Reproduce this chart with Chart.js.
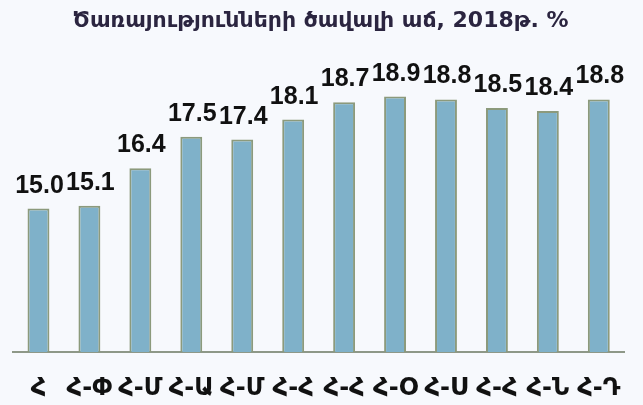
<!DOCTYPE html>
<html>
<head>
<meta charset="utf-8">
<script src="https://cdn.jsdelivr.net/npm/chart.js@4"></script>
<style>
  html, body { margin: 0; padding: 0; background: #f7f9fd; }
  #wrap { width: 643px; height: 405px; }
</style>
</head>
<body>
<div id="wrap"><canvas id="growthChart" width="643" height="405"></canvas></div>
<script>
// ======== Data ========
const regions = ["Հ", "Հ-Փ", "Հ-Մ", "Հ-Ա", "Հ-Մ", "Հ-Հ", "Հ-Հ", "Հ-Օ", "Հ-Ս", "Հ-Հ", "Հ-Ն", "Հ-Դ"];
const growth = [15.0, 15.1, 16.4, 17.5, 17.4, 18.1, 18.7, 18.9, 18.8, 18.5, 18.4, 18.8];
const chartTitle = "Ծառայությունների ծավալի աճ, 2018թ. %";

// ======== Value labels above bars ========
const valueLabels = {
    id: "valueLabels",
    afterDatasetsDraw(chart) {
        const ctx = chart.ctx;
        const meta = chart.getDatasetMeta(0);
        ctx.save();
        ctx.font = "bold 25px 'Liberation Sans', Arial, sans-serif";
        ctx.fillStyle = "#111111";
        ctx.textAlign = "center";
        ctx.textBaseline = "alphabetic";
        meta.data.forEach((bar, i) => {
            ctx.fillText(growth[i].toFixed(1), bar.x + 1, bar.y - 16);
        });
        ctx.restore();
    }
};

// ======== Chart ========
const ctx = document.getElementById("growthChart").getContext("2d");
const growthChart = new Chart(ctx, {
    type: "bar",
    data: {
        labels: regions,
        datasets: [{
            data: growth,
            backgroundColor: "#7fb1c9",
            borderColor: "#8c9a7c",
            borderWidth: 2,
            borderSkipped: "bottom",
            categoryPercentage: 1,
            barPercentage: 0.43
        }]
    },
    options: {
        responsive: false,
        animation: false,
        layout: { padding: { left: 13, right: 15, top: 0, bottom: 0 } },
        plugins: {
            legend: { display: false },
            tooltip: { enabled: false },
            title: {
                display: true,
                text: chartTitle,
                color: "#2b2540",
                font: { family: "'DejaVu Sans', sans-serif", size: 22, weight: "bold" },
                padding: { top: 8, bottom: 30.6 }
            }
        },
        scales: {
            x: {
                grid: { display: false, drawTicks: false },
                border: { display: true, color: "#8e9888", width: 2 },
                afterFit(scale) { scale.height = 53; },
                ticks: {
                    color: "#111111",
                    padding: 22,
                    maxRotation: 0,
                    autoSkip: false,
                    font: { family: "'DejaVu Sans', sans-serif", size: 24, weight: "bold" }
                }
            },
            y: {
                display: false,
                min: 10,
                max: 20
            }
        }
    },
    plugins: [valueLabels]
});
</script>
</body>
</html>
